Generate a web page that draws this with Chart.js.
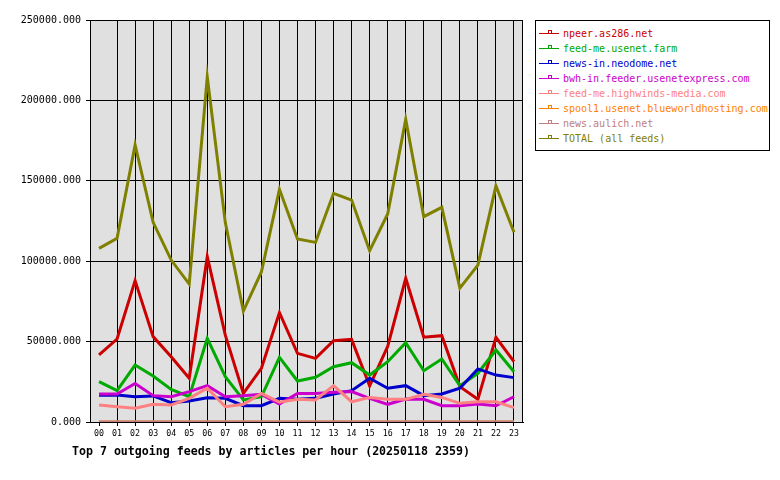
<!DOCTYPE html>
<html>
<head>
<meta charset="utf-8">
<script src="https://cdn.jsdelivr.net/npm/chart.js@4"></script>
<style>
html,body{margin:0;padding:0;background:#fff;}
#wrap{position:relative;width:780px;height:480px;}
#legend{position:absolute;left:535px;top:20px;width:235px;height:131px;border:1px solid #000;box-sizing:border-box;background:#fff;}
.row{position:absolute;left:3px;height:15px;font:10px "DejaVu Sans Mono",monospace;line-height:15px;white-space:nowrap;}
.sw{position:absolute;left:0;top:7px;width:20px;height:1px;}
.mk{position:absolute;left:9px;top:4px;width:2px;height:2px;border:1px solid;}
.tx{position:absolute;left:24px;top:0;}
#title{position:absolute;left:72px;top:444px;font:bold 11.6px "DejaVu Sans Mono",monospace;white-space:nowrap;color:#000;}
</style>
</head>
<body>
<div id="wrap">
<canvas id="c" width="780" height="480"></canvas>
<div id="legend"></div>
<div id="title">Top 7 outgoing feeds by articles per hour (20250118 2359)</div>
</div>
<script>
const hours = ['00','01','02','03','04','05','06','07','08','09','10','11','12','13','14','15','16','17','18','19','20','21','22','23'];
const yTicks = [0, 50000, 100000, 150000, 200000, 250000];
const seriesNames = ['npeer.as286.net','feed-me.usenet.farm','news-in.neodome.net','bwh-in.feeder.usenetexpress.com','feed-me.highwinds-media.com','spool1.usenet.blueworldhosting.com','news.aulich.net','TOTAL (all feeds)'];
const npeer = [41700,51600,87900,53100,40600,27200,102800,54000,17800,33400,68000,42700,39600,50600,51400,22400,47000,89400,52700,53700,22000,14100,52700,37500];
const feedme = [25100,19500,35400,28600,20300,15700,52000,28200,13700,15700,40200,25500,27800,34400,36900,29200,37500,49300,31900,39200,22600,30300,44800,31300];
const neodome = [16600,16800,15700,16200,12000,13100,15100,14700,10100,10100,14700,14100,14700,17400,19500,27200,21000,22600,16400,17400,21000,33000,29200,27600];
const bwh = [17400,17400,24000,16400,15700,18900,22600,15700,16400,17200,11200,17800,17800,18500,18900,14700,11000,14300,14100,10100,10100,11200,10100,15700];
const highwinds = [10600,9500,8500,11000,10600,14700,21000,9500,11000,17800,12300,14100,13700,22600,12600,15300,14100,14100,17200,15300,11600,12600,12600,8900];
const spool1 = [0,0,0,0,0,0,0,0,0,0,0,0,0,0,0,0,0,0,0,0,0,0,0,0];
const aulich = [0,0,0,0,0,0,0,0,0,0,0,0,0,0,0,0,0,0,0,0,0,0,0,0];
const total = [108000,114200,172300,124200,100700,85800,214700,124000,69000,93300,144700,113800,111700,142200,138000,106500,129400,188200,127700,133500,83300,97600,146800,118000];

const colors = ['#cc0000','#00aa00','#0000cc','#cc00cc','#ff8080','#ff8000','#c08080','#808000'];
const allData = [npeer, feedme, neodome, bwh, highwinds, spool1, aulich, total];

// legend
const leg = document.getElementById('legend');
seriesNames.forEach((n,i)=>{
  const r = document.createElement('div');
  r.className='row';
  r.style.top = (5 + i*15) + 'px';
  r.innerHTML = '<div class="sw" style="background:'+colors[i]+'"></div><div class="mk" style="border-color:'+colors[i]+'"></div><div class="tx" style="color:'+colors[i]+'">'+n+'</div>';
  leg.appendChild(r);
});

const bgPlugin = {
  id:'bg',
  beforeDraw(chart){
    const {ctx, chartArea:a} = chart;
    ctx.save(); ctx.fillStyle='#e0e0e0';
    ctx.fillRect(a.left,a.top,a.right-a.left,a.bottom-a.top);
    ctx.restore();
  },
  afterDraw(chart){
    const {ctx, chartArea:a} = chart;
    ctx.save(); ctx.strokeStyle='#000'; ctx.lineWidth=1;
    ctx.strokeRect(Math.round(a.left)+0.5, Math.round(a.top)+0.5, Math.round(a.right-a.left)-1, Math.round(a.bottom-a.top));
    ctx.restore();
  }
};

new Chart(document.getElementById('c'), {
  type:'line',
  data:{
    labels: hours,
    datasets: allData.map((d,i)=>({
      label: seriesNames[i], data: d, borderColor: colors[i], backgroundColor: colors[i],
      borderWidth: 3, pointRadius: 0, tension: 0, fill: false, order: 7 - i
    }))
  },
  options:{
    responsive:false, animation:false,
    layout:{padding:{left:0, top:20, right:257, bottom:0}},
    plugins:{legend:{display:false}, tooltip:{enabled:false}},
    scales:{
      x:{
        offset:true,
        grid:{offset:false, color:(c)=> c.index===0 ? 'rgba(0,0,0,0)' : '#000', tickColor:'#000', tickLength:4, lineWidth:1},
        border:{color:'#000'},
        ticks:{color:'#000', font:{family:'DejaVu Sans Mono', size:8.3}, padding:3, maxRotation:0, autoSkip:false},
        afterFit(s){ s.height = 58; }
      },
      y:{
        min:0, max:250000,
        afterBuildTicks(s){ s.ticks = yTicks.map(v=>({value:v})); },
        grid:{color:'#000', tickColor:'#000', tickLength:4, lineWidth:1},
        border:{color:'#000'},
        ticks:{color:'#000', font:{family:'DejaVu Sans Mono', size:10}, padding:5, callback:(v)=>Number(v).toFixed(3)},
        afterFit(s){ s.width = 90; }
      }
    }
  },
  plugins:[bgPlugin]
});
</script>
</body>
</html>
